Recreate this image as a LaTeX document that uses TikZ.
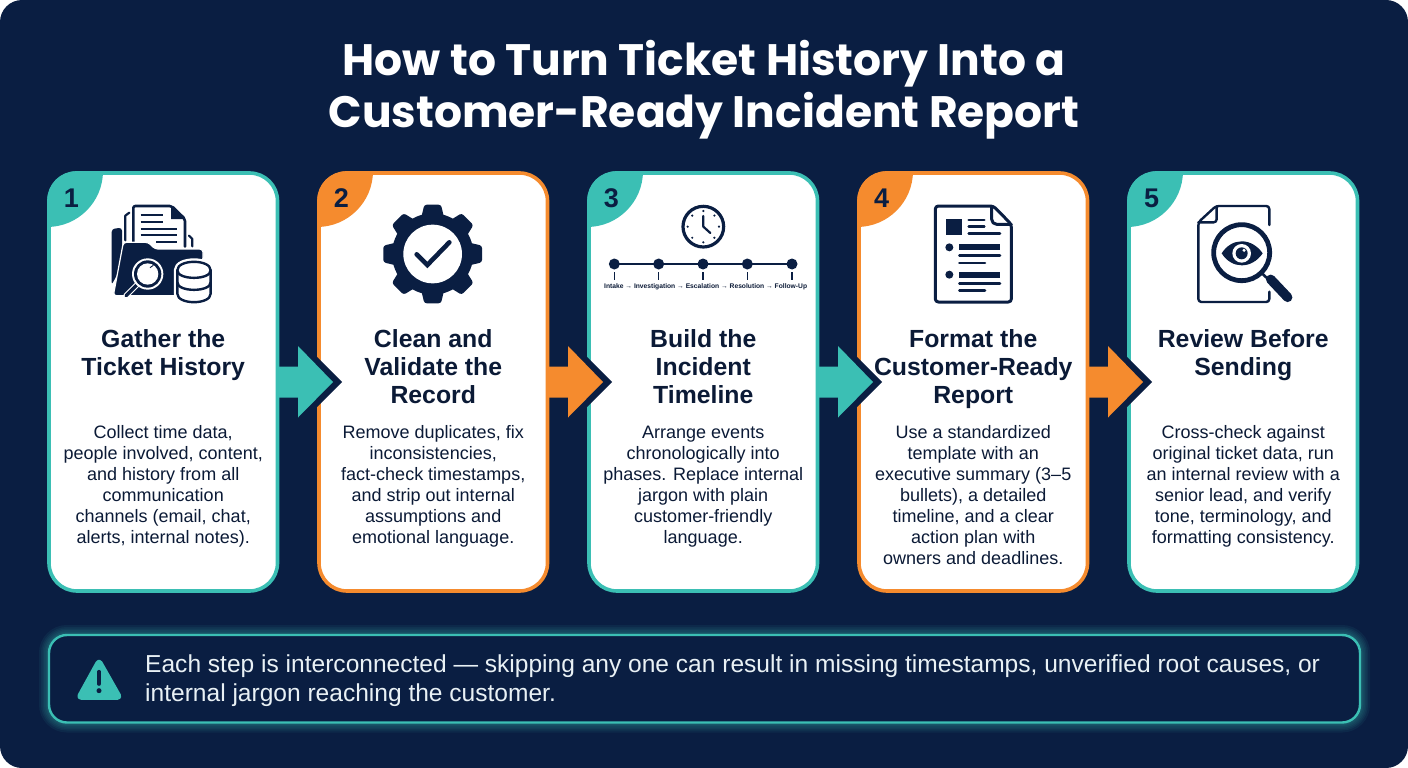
\documentclass[tikz,border=0pt]{standalone}
\usepackage{fontspec}
\setmainfont{Liberation Sans}
\newfontfamily\titlefont{Poppins}
\usetikzlibrary{calc}
\definecolor{navy}{HTML}{0A1E42}
\definecolor{teal1}{HTML}{3BBFB4}
\definecolor{orange1}{HTML}{F58B2E}
\definecolor{inkdark}{HTML}{0B1A36}
\definecolor{lighttext}{HTML}{E9F1F5}
\tikzset{
  cardbox/.style={draw=#1,line width=3.6pt,rounded corners=28pt,fill=white,minimum width=228.5pt,minimum height=418pt,inner sep=0pt,outer sep=0pt},
  headtext/.style={font=\fontsize{24.8}{28}\selectfont\bfseries,text=inkdark,align=center,anchor=north,inner sep=0pt},
  bodytext/.style={font=\fontsize{18}{21}\selectfont,text=inkdark,align=center,anchor=north,inner sep=0pt},
  numtext/.style={font=\fontsize{27}{27}\selectfont\bfseries,text=navy,inner sep=0pt},
  titletext/.style={font=\titlefont\fontsize{44}{52}\selectfont\bfseries,text=white,align=center,inner sep=0pt},
  ic/.style={draw=navy,line cap=round,line join=round},
  zoomed/.style={x=0.33333pt,y=-0.33333pt},
}
\newcommand{\stepcard}[4]{% name, x, colour, number
  \node[cardbox=#3] (c#1) at (#2,382) {};
  \begin{scope}
    \clip[rounded corners=29pt] ($(c#1.north west)+(-1.8,-1.8)$) rectangle ($(c#1.south east)+(1.8,1.8)$);
    \fill[#3] (c#1.north west) ++(-2,-2) ++(56,0) arc[start angle=0,end angle=90,radius=56] -- ++(0,-56) -- cycle;
  \end{scope}
  \node[numtext] (n#1) at ($(c#1.north west)+(22.5,25)$) {#4};
}
\newcommand{\blockarrow}[3]{% name, from card, colour
  \begin{scope}[shift={(c#2.east)}]
    \fill[navy] (64.5,0) -- (28.5,-36) -- (28.5,36) -- cycle;
    \fill[#3] (-1,-15.5) -- (20.5,-15.5) -- (20.5,-36) -- (55.5,0) -- (20.5,35.5) -- (20.5,15.5) -- (-1,15.5) -- cycle;
  \end{scope}
}
\begin{document}
\begin{tikzpicture}[x=1pt,y=-1pt]
\useasboundingbox (0,0) rectangle (1408,768);
\fill[white] (0,0) rectangle (1408,768);
\fill[navy,rounded corners=22pt] (0,0) rectangle (1408,768);
\node[titletext] (title) at (704,90) {How to Turn Ticket History Into a\\Customer-Ready Incident Report};

\stepcard{1}{163.25}{teal1}{1}
\stepcard{2}{433.25}{orange1}{2}
\stepcard{3}{703.25}{teal1}{3}
\stepcard{4}{973.25}{orange1}{4}
\stepcard{5}{1243.25}{teal1}{5}

\blockarrow{a1}{1}{teal1}
\blockarrow{a2}{2}{orange1}
\blockarrow{a3}{3}{teal1}
\blockarrow{a4}{4}{orange1}

% headings
\node[headtext] (h1) at (163.25,328) {\strut Gather the\\Ticket History};
\node[headtext] (h2) at (433.25,328) {\strut Clean and\\Validate the\\Record};
\node[headtext] (h3) at (703.25,328) {\strut Build the\\Incident\\Timeline};
\node[headtext] (h4) at (973.25,328) {\strut Format the\\Customer-Ready\\Report};
\node[headtext] (h5) at (1243.25,328) {\strut Review Before\\Sending};

% bodies
\node[bodytext] (b1) at (163.25,424) {\strut Collect time data,\\people involved, content,\\and history from all\\communication\\channels (email, chat,\\alerts, internal notes).};
\node[bodytext] (b2) at (433.25,424) {\strut Remove duplicates, fix\\inconsistencies,\\fact-check timestamps,\\and strip out internal\\assumptions and\\emotional language.};
\node[bodytext] (b3) at (703.25,424) {\strut Arrange events\\chronologically into\\phases. Replace internal\\jargon with plain\\customer-friendly\\language.};
\node[bodytext] (b4) at (973.25,424) {\strut Use a standardized\\template with an\\executive summary (3–5\\bullets), a detailed\\timeline, and a clear\\action plan with\\owners and deadlines.};
\node[bodytext] (b5) at (1243.25,424) {\strut Cross-check against\\original ticket data, run\\an internal review with a\\senior lead, and verify\\tone, terminology, and\\formatting consistency.};

% icon 1
\begin{scope}[shift={(40,165)},zoomed]
  \fill[navy,rounded corners=3pt] (215,360) -- (215,192) -- (246,188) -- (246,300) -- cycle;
  \draw[ic,line width=2.2pt] (256,226) -- (256,152) -- (268,143);
  \draw[ic,line width=2.2pt] (447,212) -- (457,222) -- (457,244);
  \draw[ic,line width=2.6pt,fill=white,rounded corners=2pt] (280,245) -- (280,123) -- (395,123) -- (435,162) -- (435,245);
  \fill[navy] (393,123) -- (435,162) -- (393,162) -- cycle;
  \foreach \ya/\xa/\xb in {150/302/368,170/302/368,191/302/410,211/302/410,232/348/410}
    \draw[ic,line width=2.2pt,line cap=butt] (\xa,\ya) -- (\xb,\ya);
  \fill[navy,draw=white,line width=1.2pt,rounded corners=3pt] (220,392) -- (250,232) -- (325,232) -- (345,252) -- (488,252) -- (490,272) -- (470,392) -- cycle;
  \draw[white,line width=5.5pt,line cap=round] (296,354) -- (258,392);
  \draw[navy,line width=3.4pt,line cap=round] (296,354) -- (258,392);
  \fill[white] (323,327) circle[radius=47];
  \fill[navy] (323,327) circle[radius=41];
  \fill[white] (323,327) circle[radius=32];
  \draw[navy,line width=0.9pt] (330,308) arc[start angle=70,end angle=10,radius=20];
  \def\dbpath{(412,316) -- (412,386) .. controls (412,420) and (512,420) .. (512,386) -- (512,316) .. controls (512,282) and (412,282) .. (412,316) -- cycle}
  \draw[white,line width=7pt,line join=round] \dbpath;
  \draw[ic,line width=2.4pt,fill=white] \dbpath;
  \draw[ic,line width=2.4pt] (412,316) .. controls (412,346) and (512,346) .. (512,316);
  \draw[ic,line width=2.4pt] (412,352) .. controls (412,382) and (512,382) .. (512,352);
\end{scope}

% icon 2 gear
\begin{scope}[shift={(310,165)},zoomed]
  \fill[navy] (368,267) circle[radius=122];
  \foreach \a in {0,45,...,315}
    \fill[navy,rounded corners=2.5pt,shift={(368,267)},rotate=\a] (-34,-110) -- (-25,-148) -- (25,-148) -- (34,-110) -- cycle;
  \fill[white] (368,267) circle[radius=88];
  \draw[navy,line width=4.6pt,line cap=round,line join=miter] (320,268) -- (352,300) -- (418,232);
\end{scope}

% icon 3
\begin{scope}[shift={(580,165)},zoomed]
  \draw[navy,line width=3.2pt] (370,185) circle[radius=61];
  \foreach \a in {0,45,...,315}
    \fill[navy] ($(370,185)+(\a:47)$) circle[radius=3.6];
  \draw[ic,line width=2.2pt] (370,153) -- (370,185) -- (391,204);
  \draw[navy,line width=2.2pt] (103,297) -- (636,297);
  \foreach \x in {103,236,369,502,636}{
    \fill[navy] (\x,297) circle[radius=16.5];
    \draw[navy,line width=1.1pt] (\x,322) -- (\x,345);
  }
  \node[inner sep=0pt,font=\fontsize{6.7}{8}\selectfont\bfseries,text=inkdark] (tl) at (377,365) {Intake → Investigation → Escalation → Resolution → Follow-Up};
\end{scope}

% icon 4
\begin{scope}[shift={(850,165)},zoomed]
  \draw[ic,line width=3pt,rounded corners=3pt] (430,123) -- (256,123) -- (256,411) -- (484,411) -- (484,178) -- cycle;
  \draw[ic,line width=3pt,rounded corners=5pt] (425,124) -- (425,178) -- (484,178);
  \fill[navy] (288,162) rectangle (336,210);
  \foreach \ya/\xa/\xb in {165/356/403,185/356/403,206/356/450,272/328/450,294/328/405,355/328/450,377/328/405}
    \draw[ic,line width=2.5pt] (\xa,\ya) -- (\xb,\ya);
  \fill[navy] (298,247) circle[radius=12];
  \fill[navy] (298,329) circle[radius=12];
  \fill[navy] (328,237) rectangle (450,256);
  \fill[navy] (328,320) rectangle (450,339);
\end{scope}

% icon 5
\begin{scope}[shift={(1120,165)},zoomed]
  \draw[ic,line width=2.4pt,rounded corners=3pt] (448,180) -- (448,123) -- (288,123) -- (235,172) -- (235,411) -- (448,411) -- (448,380);
  \draw[ic,line width=2.4pt,rounded corners=3pt] (290,124) -- (290,172) -- (235,172);
  \draw[navy,line width=2.6pt] (428,327) -- (448,346);
  \draw[navy,line width=9.5pt,line cap=round] (452,343) -- (503,397);
  \draw[navy,line width=4.8pt,fill=white] (365,263) circle[radius=84];
  \fill[navy] (305,265) .. controls (335,217) and (395,217) .. (428,265) .. controls (395,313) and (335,313) .. cycle;
  \fill[white] (365,265) circle[radius=28];
  \fill[navy] (365,265) circle[radius=18];
  \fill[white] (372,256) circle[radius=5];
\end{scope}

% callout
\foreach \w in {20,16,13,10,7,5}
  \draw[teal1,opacity=0.07,line width=\w pt,rounded corners=18pt] (49,635) rectangle (1360,722.5);
\node[fill=navy,draw=teal1,line width=2.4pt,rounded corners=18pt,minimum width=1311pt,minimum height=87.5pt,inner sep=0pt,outer sep=0pt] (callout) at (704.5,678.75) {};
\begin{scope}[shift={(30,620)},zoomed]
  \fill[teal1,draw=teal1,line width=3pt,line join=round,rounded corners=4pt] (207,117) -- (142,235) -- (274,235) -- cycle;
  \draw[navy,line width=3.6pt,line cap=round] (207,155) -- (207,192);
  \fill[navy] (207,212) circle[radius=7.5];
\end{scope}
\node[inner sep=0pt,align=left,anchor=west,text=lighttext,font=\fontsize{24.55}{29}\selectfont] (note) at (145,681) {Each step is interconnected — skipping any one can result in missing timestamps, unverified root causes, or\\internal jargon reaching the customer.};
\end{tikzpicture}
\end{document}
